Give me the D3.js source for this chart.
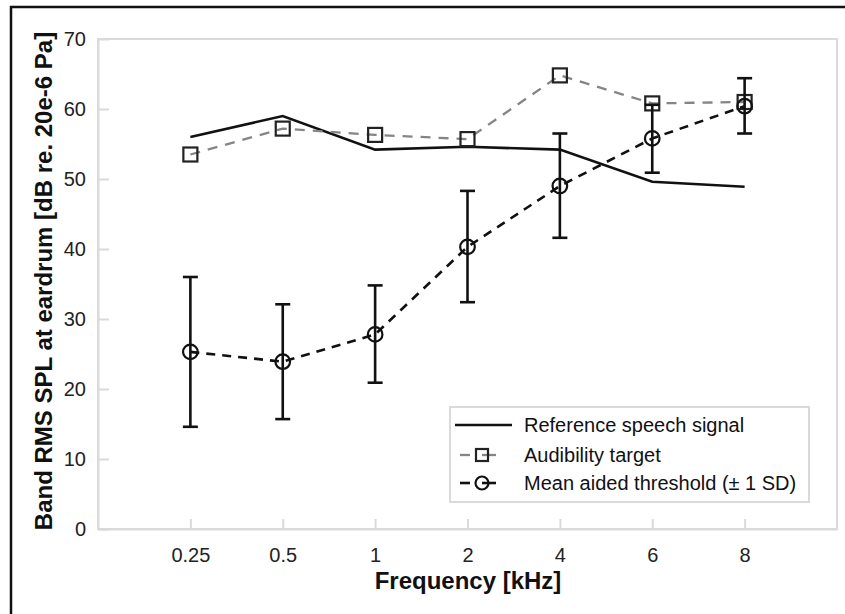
<!DOCTYPE html>
<html>
<head>
<meta charset="utf-8">
<script src="https://cdn.jsdelivr.net/npm/d3@7"></script>
<style>
  html, body { margin: 0; padding: 0; background: #fff; }
  svg { display: block; font-family: "Liberation Sans", Arial, Helvetica, sans-serif; }
</style>
</head>
<body>
<svg id="chart" width="845" height="614"></svg>
<script>
// ---- data ----
const freqLabels = ["0.25", "0.5", "1", "2", "4", "6", "8"];
const speechSignal = [56.0, 59.0, 54.2, 54.6, 54.2, 49.6, 48.9];
const audibilityTarget = [53.5, 57.2, 56.3, 55.7, 64.8, 60.8, 61.0];
const aidedMean = [25.3, 23.9, 27.8, 40.3, 49.0, 55.8, 60.4];
const aidedUpper = [36.0, 32.1, 34.8, 48.3, 56.5, 60.6, 64.4];
const aidedLower = [14.6, 15.7, 20.9, 32.4, 41.6, 50.9, 56.5];
const yTicks = [0, 10, 20, 30, 40, 50, 60, 70];
const legendLabels = ["Reference speech signal", "Audibility target", "Mean aided threshold (\u00b1 1 SD)"];

const svg = d3.select("#chart");
const L = 98, R = 837, T = 39, B = 529;
const x = d3.scaleLinear().domain([0, 8]).range([L, R]);
const y = d3.scaleLinear().domain([0, 70]).range([B, T]);
const idx = freqLabels.map((d, i) => i + 1);
const boxGray = "#dadada";

// outer frame (only top/left visible)
svg.append("path").attr("d", "M11,614 L11,7 L845,7")
  .attr("fill", "none").attr("stroke", "#111").attr("stroke-width", 2.5);

// plot box
svg.append("rect").attr("x", L).attr("y", T).attr("width", R - L).attr("height", B - T)
  .attr("fill", "none").attr("stroke", boxGray).attr("stroke-width", 2);

// axes
const xAxis = d3.axisBottom(x).tickValues(idx).tickFormat((d, i) => freqLabels[i])
  .tickSizeInner(-10).tickSizeOuter(0).tickPadding(19);
const gx = svg.append("g").attr("transform", `translate(0,${B})`).call(xAxis);
const yAxis = d3.axisLeft(y).tickValues(yTicks).tickFormat(d3.format("d"))
  .tickSizeInner(-11).tickSizeOuter(0).tickPadding(12);
const gy = svg.append("g").attr("transform", `translate(${L},0)`).call(yAxis);
[gx, gy].forEach(g => {
  g.select(".domain").attr("stroke", boxGray).attr("stroke-width", 2);
  g.selectAll(".tick line").attr("stroke", boxGray).attr("stroke-width", 2);
  g.selectAll(".tick text").attr("fill", "#222").style("font-size", "20px")
    .style("font-family", '"Liberation Sans", Arial, sans-serif');
});

// axis titles
svg.append("text").attr("x", 468).attr("y", 589).attr("text-anchor", "middle")
  .style("font-size", "24px").style("font-weight", "bold").attr("fill", "#111")
  .text("Frequency [kHz]");
svg.append("text").attr("transform", "translate(52,281) rotate(-90)").attr("text-anchor", "middle")
  .style("font-size", "24px").style("font-weight", "bold").attr("fill", "#111")
  .text("Band RMS SPL at eardrum [dB re. 20e-6 Pa]");

const line = d3.line().x((d, i) => x(i + 1)).y(d => y(d));

// reference speech signal
svg.append("path").datum(speechSignal).attr("d", line)
  .attr("fill", "none").attr("stroke", "#111").attr("stroke-width", 2.6);

// audibility target
const gray = "#858585";
svg.append("path").datum(audibilityTarget).attr("d", line)
  .attr("fill", "none").attr("stroke", gray).attr("stroke-width", 2.3)
  .attr("stroke-dasharray", "10,8");
svg.append("g").selectAll("rect").data(audibilityTarget).join("rect")
  .attr("x", (d, i) => x(i + 1) - 7).attr("y", d => y(d) - 7)
  .attr("width", 14).attr("height", 14)
  .attr("fill", "none").attr("stroke", "#222").attr("stroke-width", 2.2);

// error bars
const eg = svg.append("g").attr("stroke", "#111").attr("stroke-width", 2.6);
idx.forEach((v, i) => {
  const cx = x(v);
  eg.append("line").attr("x1", cx).attr("x2", cx).attr("y1", y(aidedUpper[i])).attr("y2", y(aidedLower[i]));
  eg.append("line").attr("x1", cx - 7.5).attr("x2", cx + 7.5).attr("y1", y(aidedUpper[i])).attr("y2", y(aidedUpper[i]));
  eg.append("line").attr("x1", cx - 7.5).attr("x2", cx + 7.5).attr("y1", y(aidedLower[i])).attr("y2", y(aidedLower[i]));
});

// mean aided threshold
svg.append("path").datum(aidedMean).attr("d", line)
  .attr("fill", "none").attr("stroke", "#111").attr("stroke-width", 2.6)
  .attr("stroke-dasharray", "9,7");
svg.append("g").selectAll("circle").data(aidedMean).join("circle")
  .attr("cx", (d, i) => x(i + 1)).attr("cy", d => y(d)).attr("r", 7.3)
  .attr("fill", "none").attr("stroke", "#111").attr("stroke-width", 2.2);

// legend
const lg = svg.append("g");
lg.append("rect").attr("x", 450).attr("y", 407).attr("width", 359).attr("height", 95)
  .attr("fill", "#fff").attr("stroke", boxGray).attr("stroke-width", 2);
const rowsY = [425, 455, 483];
lg.append("line").attr("x1", 455).attr("x2", 512).attr("y1", rowsY[0]).attr("y2", rowsY[0])
  .attr("stroke", "#111").attr("stroke-width", 2.6);
lg.append("line").attr("x1", 460).attr("x2", 470).attr("y1", rowsY[1]).attr("y2", rowsY[1])
  .attr("stroke", gray).attr("stroke-width", 2.3);
lg.append("line").attr("x1", 482).attr("x2", 496).attr("y1", rowsY[1]).attr("y2", rowsY[1])
  .attr("stroke", gray).attr("stroke-width", 2.3);
lg.append("rect").attr("x", 476).attr("y", rowsY[1] - 6).attr("width", 12).attr("height", 12)
  .attr("fill", "none").attr("stroke", "#222").attr("stroke-width", 2.2);
lg.append("line").attr("x1", 460).attr("x2", 470).attr("y1", rowsY[2]).attr("y2", rowsY[2])
  .attr("stroke", "#111").attr("stroke-width", 2.6);
lg.append("line").attr("x1", 482).attr("x2", 496).attr("y1", rowsY[2]).attr("y2", rowsY[2])
  .attr("stroke", "#111").attr("stroke-width", 2.6);
lg.append("circle").attr("cx", 482).attr("cy", rowsY[2]).attr("r", 6.5)
  .attr("fill", "none").attr("stroke", "#111").attr("stroke-width", 2.2);
lg.selectAll("text.leg").data(legendLabels).join("text").attr("class", "leg")
  .attr("x", 524).attr("y", (d, i) => rowsY[i]).attr("dy", "0.35em")
  .style("font-size", "20px").attr("fill", "#111").text(d => d);
</script>
</body>
</html>
